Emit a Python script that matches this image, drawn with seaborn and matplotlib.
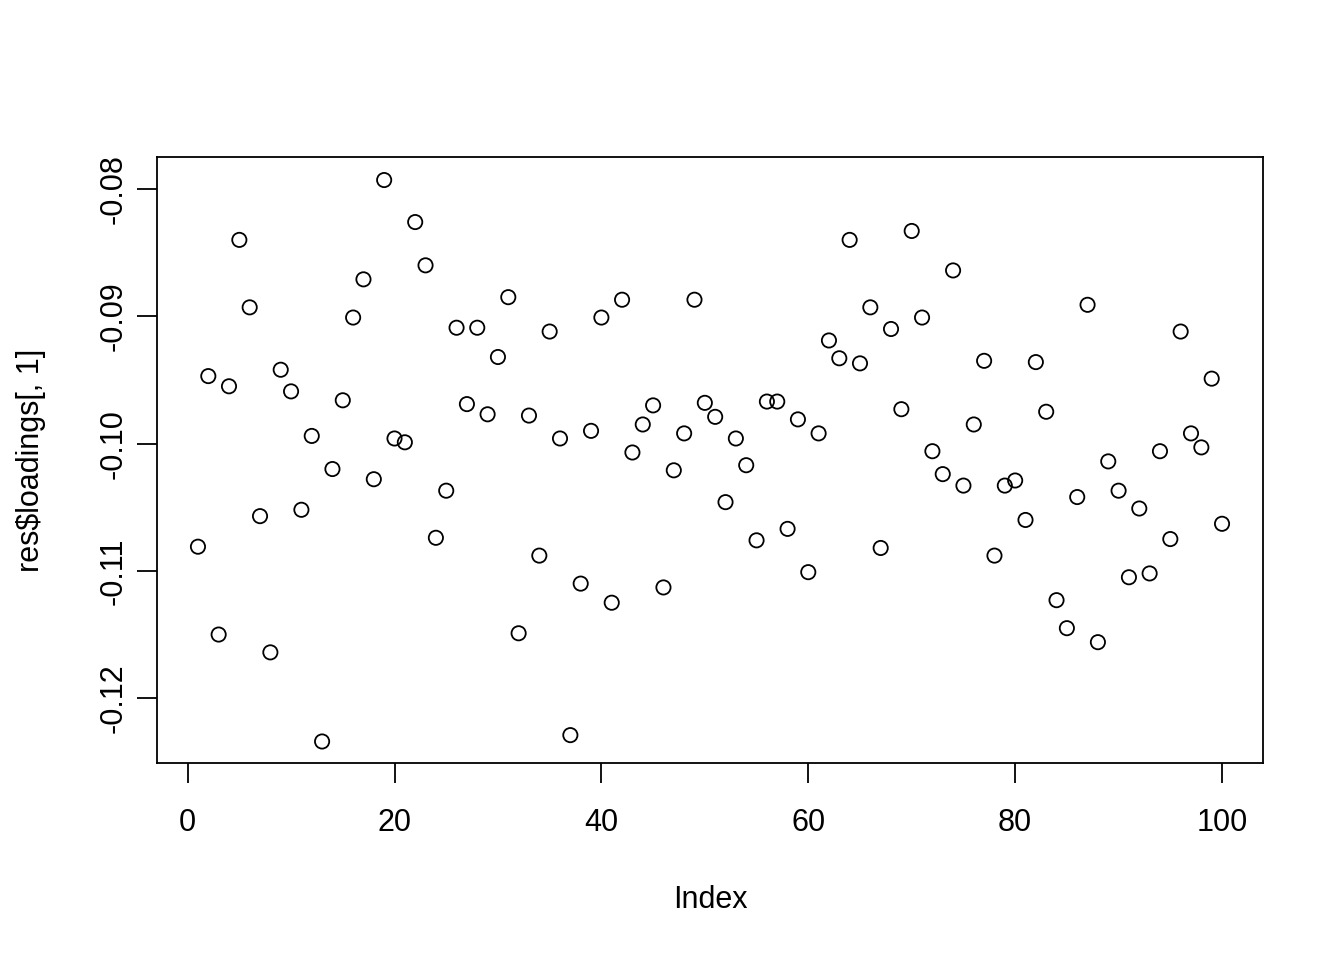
import matplotlib
matplotlib.use("Agg")
import matplotlib.pyplot as plt
import pandas as pd
import seaborn as sns

index = list(range(1, 101))
loadings = [
    -0.1081, -0.0947, -0.1150, -0.0955, -0.0840, -0.0893, -0.1057, -0.1164, -0.0942, -0.0959,
    -0.1052, -0.0994, -0.1234, -0.1020, -0.0966, -0.0901, -0.0871, -0.1028, -0.0793, -0.0996,
    -0.0999, -0.0826, -0.0860, -0.1074, -0.1037, -0.0909, -0.0969, -0.0909, -0.0977, -0.0932,
    -0.0885, -0.1149, -0.0978, -0.1088, -0.0912, -0.0996, -0.1229, -0.1110, -0.0990, -0.0901,
    -0.1125, -0.0887, -0.1007, -0.0985, -0.0970, -0.1113, -0.1021, -0.0992, -0.0887, -0.0968,
    -0.0979, -0.1046, -0.0996, -0.1017, -0.1076, -0.0967, -0.0967, -0.1067, -0.0981, -0.1101,
    -0.0992, -0.0919, -0.0933, -0.0840, -0.0937, -0.0893, -0.1082, -0.0910, -0.0973, -0.0833,
    -0.0901, -0.1006, -0.1024, -0.0864, -0.1033, -0.0985, -0.0935, -0.1088, -0.1033, -0.1029,
    -0.1060, -0.0936, -0.0975, -0.1123, -0.1145, -0.1042, -0.0891, -0.1156, -0.1014, -0.1037,
    -0.1105, -0.1051, -0.1102, -0.1006, -0.1075, -0.0912, -0.0992, -0.1003, -0.0949, -0.1063,
]
x_ticks = [0, 20, 40, 60, 80, 100]
y_ticks = [-0.12, -0.11, -0.10, -0.09, -0.08]
y_ticklabels = ["-0.12", "-0.11", "-0.10", "-0.09", "-0.08"]

df = pd.DataFrame({"Index": index, "loading": loadings})

sns.set_style("white")
plt.rcParams["font.family"] = ["Liberation Sans", "DejaVu Sans"]
plt.rcParams["text.color"] = "black"
plt.rcParams["axes.labelcolor"] = "black"

fig = plt.figure(figsize=(13.44, 9.6), dpi=100)
ax = fig.add_axes([157 / 1344, 1 - 763 / 960, (1263 - 157) / 1344, (763 - 157) / 960])

sns.scatterplot(
    data=df, x="Index", y="loading", ax=ax,
    s=105, marker="o", facecolor="none", edgecolor="black", linewidth=1.3,
)

# R style axis extents (4% padding)
ax.set_xlim(-2.96, 103.96)
ax.set_ylim(-0.12509, -0.07749)

ax.set_xticks(x_ticks)
ax.set_yticks(y_ticks)
ax.set_yticklabels(y_ticklabels, rotation=90, va="center")

for s in ax.spines.values():
    s.set_visible(True)
    s.set_color("black")
    s.set_linewidth(1.3)

ax.tick_params(axis="both", direction="out", length=14.4, width=1.3,
               labelsize=22, colors="black", bottom=True, left=True)
ax.tick_params(axis="x", pad=18)
ax.tick_params(axis="y", pad=6)

ax.set_xlabel("Index", fontsize=22, labelpad=34, color="black")
ax.set_ylabel("res$loadings[, 1]", fontsize=22, labelpad=38, color="black")

fig.savefig("out.png", dpi=100, facecolor="white")
